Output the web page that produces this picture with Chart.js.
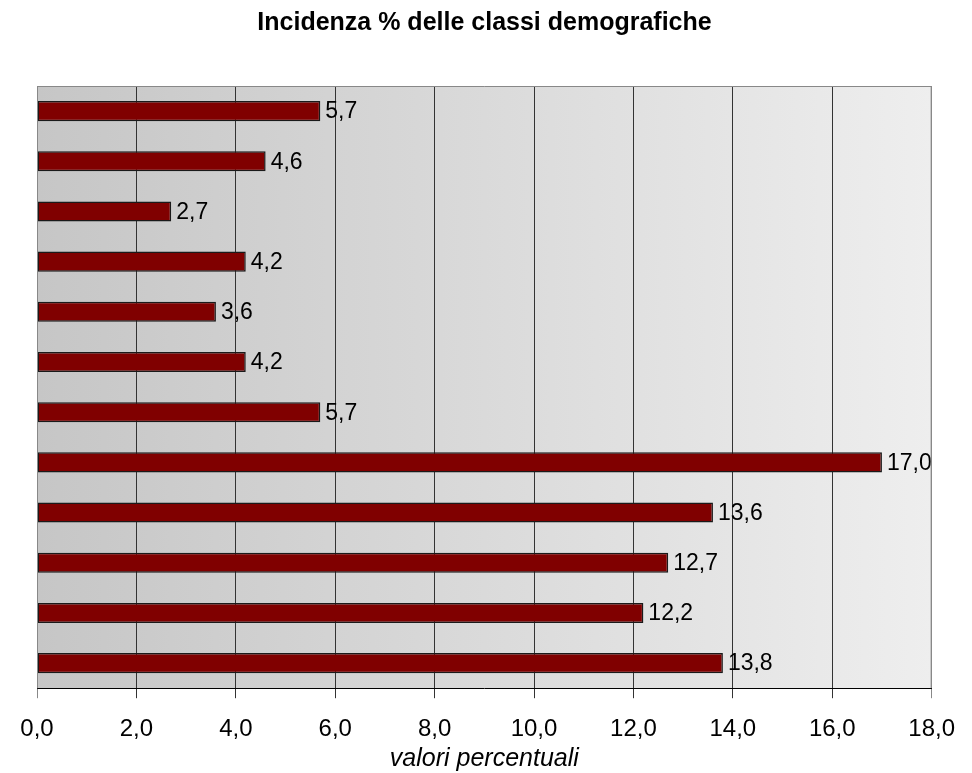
<!DOCTYPE html>
<html>
<head>
<meta charset="utf-8">
<script src="https://cdn.jsdelivr.net/npm/chart.js@4"></script>
<style>
  html, body { margin: 0; padding: 0; background: #fff; }
  #wrap { width: 972px; height: 773px; }
</style>
</head>
<body>
<div id="wrap"><canvas id="grafico"></canvas></div>
<script>
// dati (dall'alto verso il basso)
let classi = ['c1', 'c2', 'c3', 'c4', 'c5', 'c6', 'c7', 'c8', 'c9', 'c10', 'c11', 'c12'];
let valori = [5.7, 4.6, 2.7, 4.2, 3.6, 4.2, 5.7, 17.0, 13.6, 12.7, 12.2, 13.8];
let tickValori = [0, 2, 4, 6, 8, 10, 12, 14, 16, 18];

let fonte = '"Liberation Sans", Arial, sans-serif';

function virgola(v) {
    return v.toFixed(1).replace('.', ',');
}

// sfondo dell'area del grafico
const sfondo = {
    id: 'sfondo',
    beforeDraw(chart) {
        let ctx = chart.ctx;
        let a = chart.chartArea;
        let g = ctx.createLinearGradient(a.left, 0, a.right, 0);
        g.addColorStop(0, '#c6c6c6');
        g.addColorStop(1, '#eeeeee');
        ctx.save();
        ctx.fillStyle = g;
        ctx.fillRect(a.left, a.top, a.right - a.left, a.bottom - a.top);
        ctx.restore();
    },
    afterDraw(chart) {
        let ctx = chart.ctx;
        let a = chart.chartArea;
        ctx.save();
        ctx.strokeStyle = '#888888';
        ctx.lineWidth = 1;
        ctx.beginPath();
        ctx.moveTo(a.left + 0.5, a.bottom);
        ctx.lineTo(a.left + 0.5, a.top + 0.5);
        ctx.lineTo(a.right - 0.5, a.top + 0.5);
        ctx.lineTo(a.right - 0.5, a.bottom);
        ctx.stroke();
        ctx.restore();
    }
};

// etichette dei valori
const etichette = {
    id: 'etichette',
    afterDatasetsDraw(chart) {
        let ctx = chart.ctx;
        let meta = chart.getDatasetMeta(0);
        ctx.save();
        ctx.font = '23px ' + fonte;
        ctx.fillStyle = '#000';
        ctx.textBaseline = 'middle';
        ctx.textAlign = 'left';
        meta.data.forEach((bar, i) => {
            ctx.fillText(virgola(valori[i]), bar.x + 5, bar.y + 1);
        });
        ctx.restore();
    }
};

const config = {
    type: 'bar',
    data: {
        labels: classi,
        datasets: [{
            data: valori,
            backgroundColor: '#800000',
            borderColor: '#1a1a1a',
            borderWidth: 1.5,
            borderSkipped: false,
            barPercentage: 0.4,
            categoryPercentage: 1
        }]
    },
    options: {
        indexAxis: 'y',
        responsive: true,
        maintainAspectRatio: false,
        animation: false,
        layout: { padding: { left: 37, right: 40, top: 0, bottom: 2 } },
        plugins: {
            legend: { display: false },
            tooltip: { enabled: false },
            title: {
                display: true,
                text: 'Incidenza % delle classi demografiche',
                color: '#000',
                font: { family: fonte, size: 25, weight: 'bold' },
                padding: { top: 8, bottom: 48 }
            }
        },
        scales: {
            x: {
                min: 0,
                max: 18,
                afterBuildTicks(axis) {
                    axis.ticks = tickValori.map(v => ({ value: v }));
                },
                grid: {
                    color: (c) => (c.index === 0 || c.index === tickValori.length - 1) ? '#888888' : '#333333',
                    lineWidth: 1,
                    tickLength: 10,
                    drawTicks: true
                },
                border: { display: true, color: '#000', width: 1 },
                ticks: {
                    color: '#000',
                    padding: 17,
                    maxRotation: 0,
                    font: { family: fonte, size: 24 },
                    callback: (v) => virgola(v)
                },
                title: {
                    display: true,
                    text: 'valori percentuali',
                    color: '#000',
                    font: { family: fonte, size: 25, style: 'italic' },
                    padding: { top: -17, bottom: -3 }
                }
            },
            y: {
                display: false
            }
        }
    },
    plugins: [sfondo, etichette]
};

const myChart = new Chart(document.getElementById('grafico'), config);
</script>
</body>
</html>
